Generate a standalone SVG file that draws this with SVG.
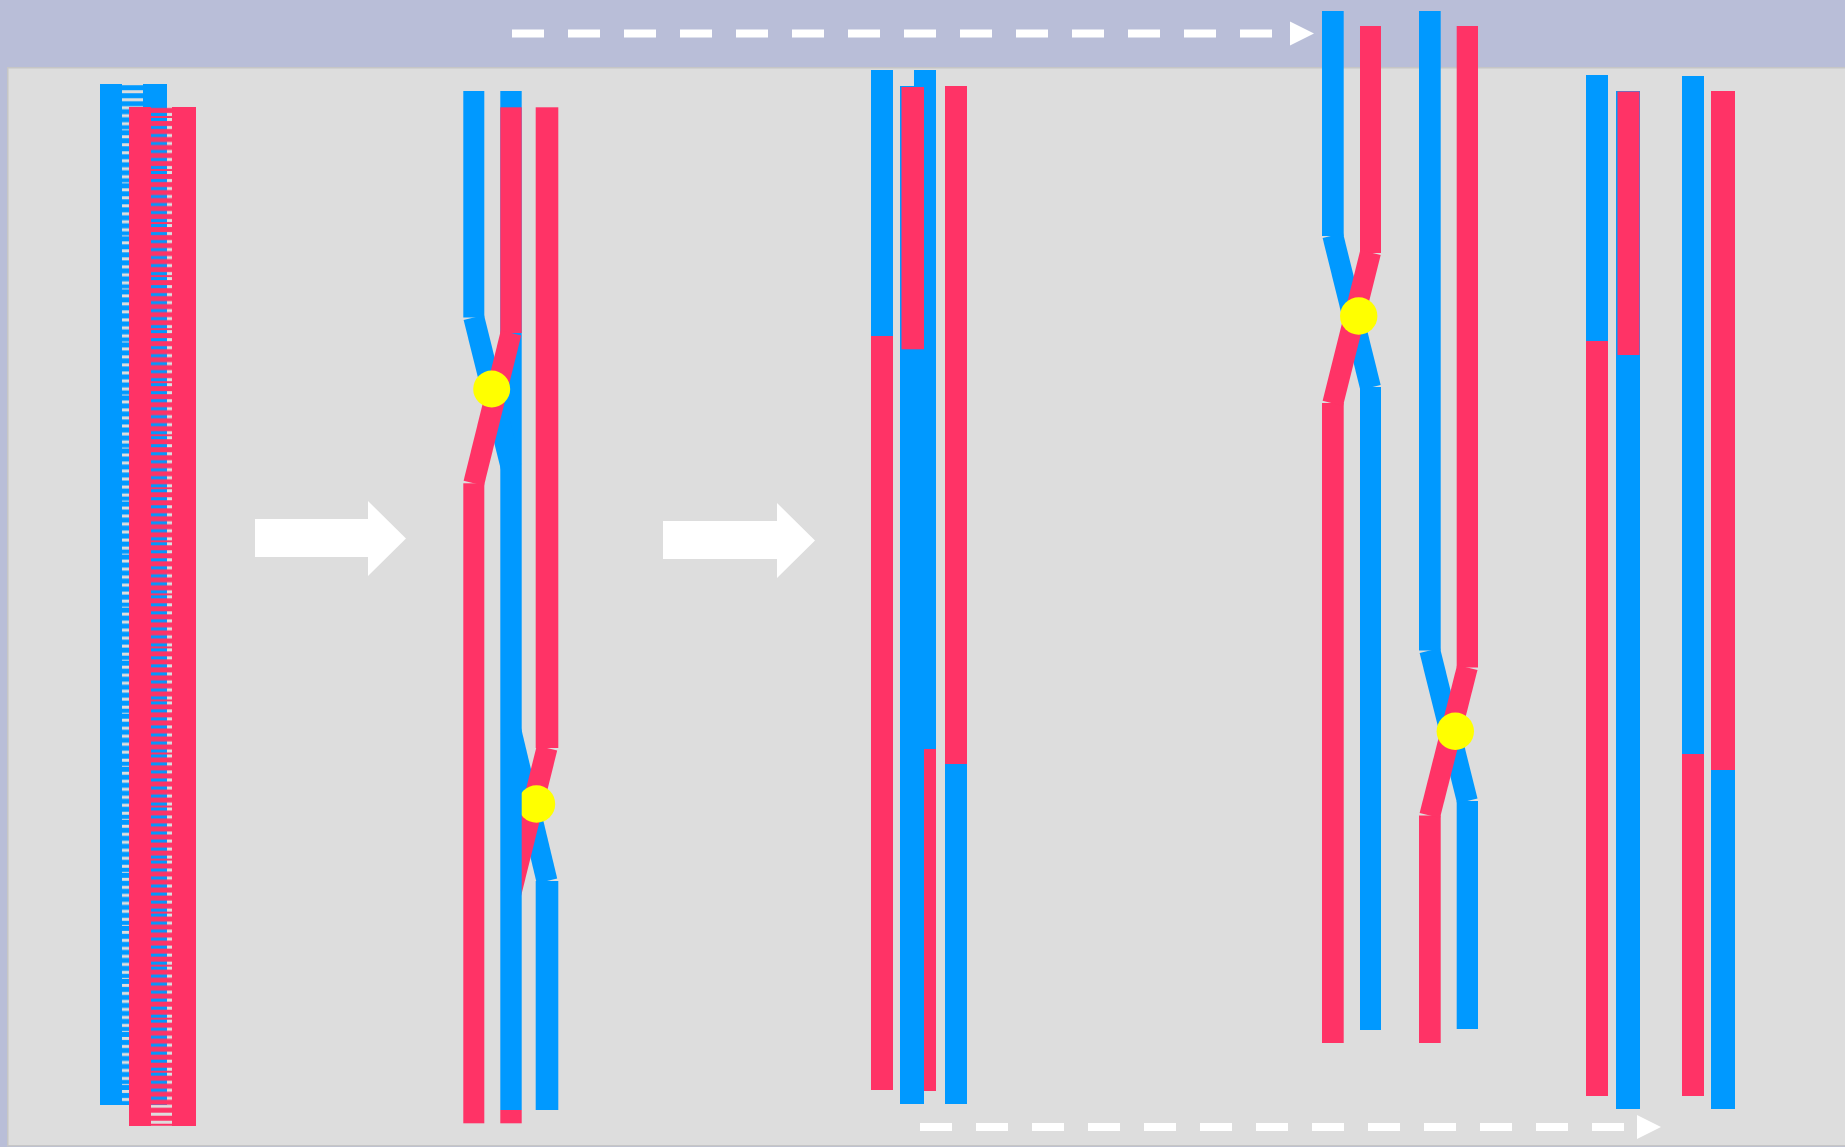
<svg xmlns="http://www.w3.org/2000/svg" width="1845" height="1147" viewBox="0 0 1845 1147">
  <style>
    .b { fill: #0099FF; }
    .r { fill: #FF3366; }
    .bl { stroke: #0099FF; stroke-width: 21; stroke-linecap: butt; fill: none; }
    .rl { stroke: #FF3366; stroke-width: 21; stroke-linecap: butt; fill: none; }
    .xo { fill: #FFFF00; }
    .big { fill: #FFFFFF; }
    .dash { stroke: #FFFFFF; stroke-width: 8; stroke-dasharray: 32 24; fill: none; }
    .head { fill: #FFFFFF; }
  </style>
  <defs>
    <!-- punched rungs of the paired strands -->
    <pattern id="holes-b" patternUnits="userSpaceOnUse" x="0" y="29.2" width="1845" height="53.04">
      <rect x="122" y="0" width="21" height="3"/>
      <rect x="122" y="8" width="21" height="3"/>
      <rect x="122" y="16" width="21" height="3"/>
      <rect x="122" y="24" width="21" height="3"/>
      <rect x="122" y="32" width="21" height="3"/>
      <rect x="122" y="40" width="21" height="3"/>
      <rect x="122" y="47" width="21" height="1"/>
    </pattern>
    <pattern id="holes-r" patternUnits="userSpaceOnUse" x="0" y="64.96" width="1845" height="53.04">
      <rect x="151" y="0" width="21" height="3"/>
      <rect x="151" y="8" width="21" height="3"/>
      <rect x="151" y="16" width="21" height="3"/>
      <rect x="151" y="24" width="21" height="3"/>
      <rect x="151" y="32" width="21" height="3"/>
      <rect x="151" y="40" width="21" height="3"/>
      <rect x="151" y="48" width="21" height="3"/>
    </pattern>
    <mask id="m-blue" maskUnits="userSpaceOnUse" x="0" y="0" width="1845" height="1147">
      <rect x="100" y="84" width="67" height="1021" fill="#FFFFFF"/>
      <rect x="122" y="84" width="21" height="1021" fill="url(#holes-b)"/>
    </mask>
    <mask id="m-red" maskUnits="userSpaceOnUse" x="0" y="0" width="1845" height="1147">
      <rect x="129" y="107" width="67" height="1019" fill="#FFFFFF"/>
      <rect x="151" y="107" width="21" height="1019" fill="url(#holes-r)"/>
    </mask>
  </defs>

  <!-- backdrop -->
  <rect x="0" y="0" width="1845" height="1147" fill="#B9BED8"/>
  <rect x="7.75" y="67.75" width="1840" height="1078" fill="#DDDDDD" stroke="#C6C6C6" stroke-width="1.5"/>

  <!-- paired homologues -->
  <g id="pair">
    <rect class="b" x="100" y="84" width="67" height="1021" mask="url(#m-blue)"/>
    <rect class="r" x="129" y="107" width="67" height="1019" mask="url(#m-red)"/>
  </g>

  <!-- crossing over -->
  <g id="crossover">
    <line class="bl" x1="511" y1="731" x2="547" y2="881"/>
    <line class="rl" x1="547" y1="748" x2="511" y2="893"/>
    <circle class="xo" cx="536.5" cy="804" r="18.7"/>
    <rect class="b" x="500.3" y="91" width="21.4" height="1019"/>
    <rect class="r" x="500.3" y="107.3" width="21.4" height="225.7"/>
    <rect class="r" x="500.3" y="1110" width="21.4" height="13.3"/>
    <rect class="b" x="463.3" y="91" width="21" height="226.5"/>
    <rect class="r" x="463.3" y="483.3" width="21" height="640"/>
    <rect class="r" x="535.7" y="107.3" width="22.6" height="640.7"/>
    <rect class="b" x="535.7" y="881" width="22.6" height="229"/>
    <line class="bl" x1="473.8" y1="317.5" x2="511" y2="466.7"/>
    <line class="rl" x1="511" y1="333" x2="473.8" y2="483.3"/>
    <circle class="xo" cx="491.7" cy="389" r="18.5"/>
  </g>

  <!-- recombined chromatids -->
  <g id="recombined">
    <rect class="b" x="871" y="70" width="22" height="266"/>
    <rect class="r" x="871" y="336" width="22" height="754"/>
    <rect class="b" x="914" y="70" width="22" height="679"/>
    <rect class="r" x="914" y="749" width="22" height="342"/>
    <rect class="b" x="900" y="86" width="24" height="1018"/>
    <rect class="r" x="901.5" y="87" width="22.5" height="262.3"/>
    <rect class="r" x="945" y="86" width="22" height="678"/>
    <rect class="b" x="945" y="764" width="22" height="340"/>
  </g>

  <!-- two exchanges -->
  <g id="double-exchange">
    <rect class="b" x="1322" y="11" width="21.7" height="225"/>
    <rect class="r" x="1322" y="403" width="21.7" height="640"/>
    <rect class="r" x="1360" y="26" width="21" height="227"/>
    <rect class="b" x="1360" y="387" width="21" height="643"/>
    <rect class="b" x="1419" y="11" width="21.7" height="639.5"/>
    <rect class="r" x="1419" y="815.5" width="21.7" height="227.5"/>
    <rect class="r" x="1456.7" y="26" width="21.3" height="641.5"/>
    <rect class="b" x="1456.7" y="801" width="21.3" height="228"/>
    <line class="bl" x1="1332.8" y1="235.5" x2="1370.5" y2="387.5"/>
    <line class="rl" x1="1370.5" y1="252.5" x2="1332.8" y2="403.4"/>
    <line class="bl" x1="1429.8" y1="650.5" x2="1467.3" y2="801"/>
    <line class="rl" x1="1467.3" y1="667.5" x2="1429.8" y2="815.5"/>
    <circle class="xo" cx="1358.7" cy="316" r="18.7"/>
    <circle class="xo" cx="1455.3" cy="731.3" r="18.7"/>
  </g>

  <!-- resulting chromatids -->
  <g id="products">
    <rect class="b" x="1586" y="75" width="22" height="266"/>
    <rect class="r" x="1586" y="341" width="22" height="755"/>
    <rect class="b" x="1616" y="91" width="24" height="1018"/>
    <rect class="r" x="1617.5" y="91.5" width="22" height="263.5"/>
    <rect class="b" x="1682" y="76" width="22" height="678"/>
    <rect class="r" x="1682" y="754" width="22" height="342"/>
    <rect class="r" x="1711" y="91" width="24" height="679"/>
    <rect class="b" x="1711" y="770" width="24" height="339"/>
  </g>

  <!-- step arrows and flow lines -->
  <g id="connectors">
    <polygon class="big" points="255,519 368,519 368,501 406,538.5 368,576 368,557 255,557"/>
    <polygon class="big" points="663,521 777,521 777,503 815,540.5 777,578 777,559 663,559"/>
    <line class="dash" x1="512" y1="33.5" x2="1272" y2="33.5"/>
    <polygon class="head" points="1290,21.5 1314,33.5 1290,45.5"/>
    <line class="dash" x1="920" y1="1127" x2="1624" y2="1127"/>
    <polygon class="head" points="1637,1115 1661,1127 1637,1139"/>
  </g>
</svg>
